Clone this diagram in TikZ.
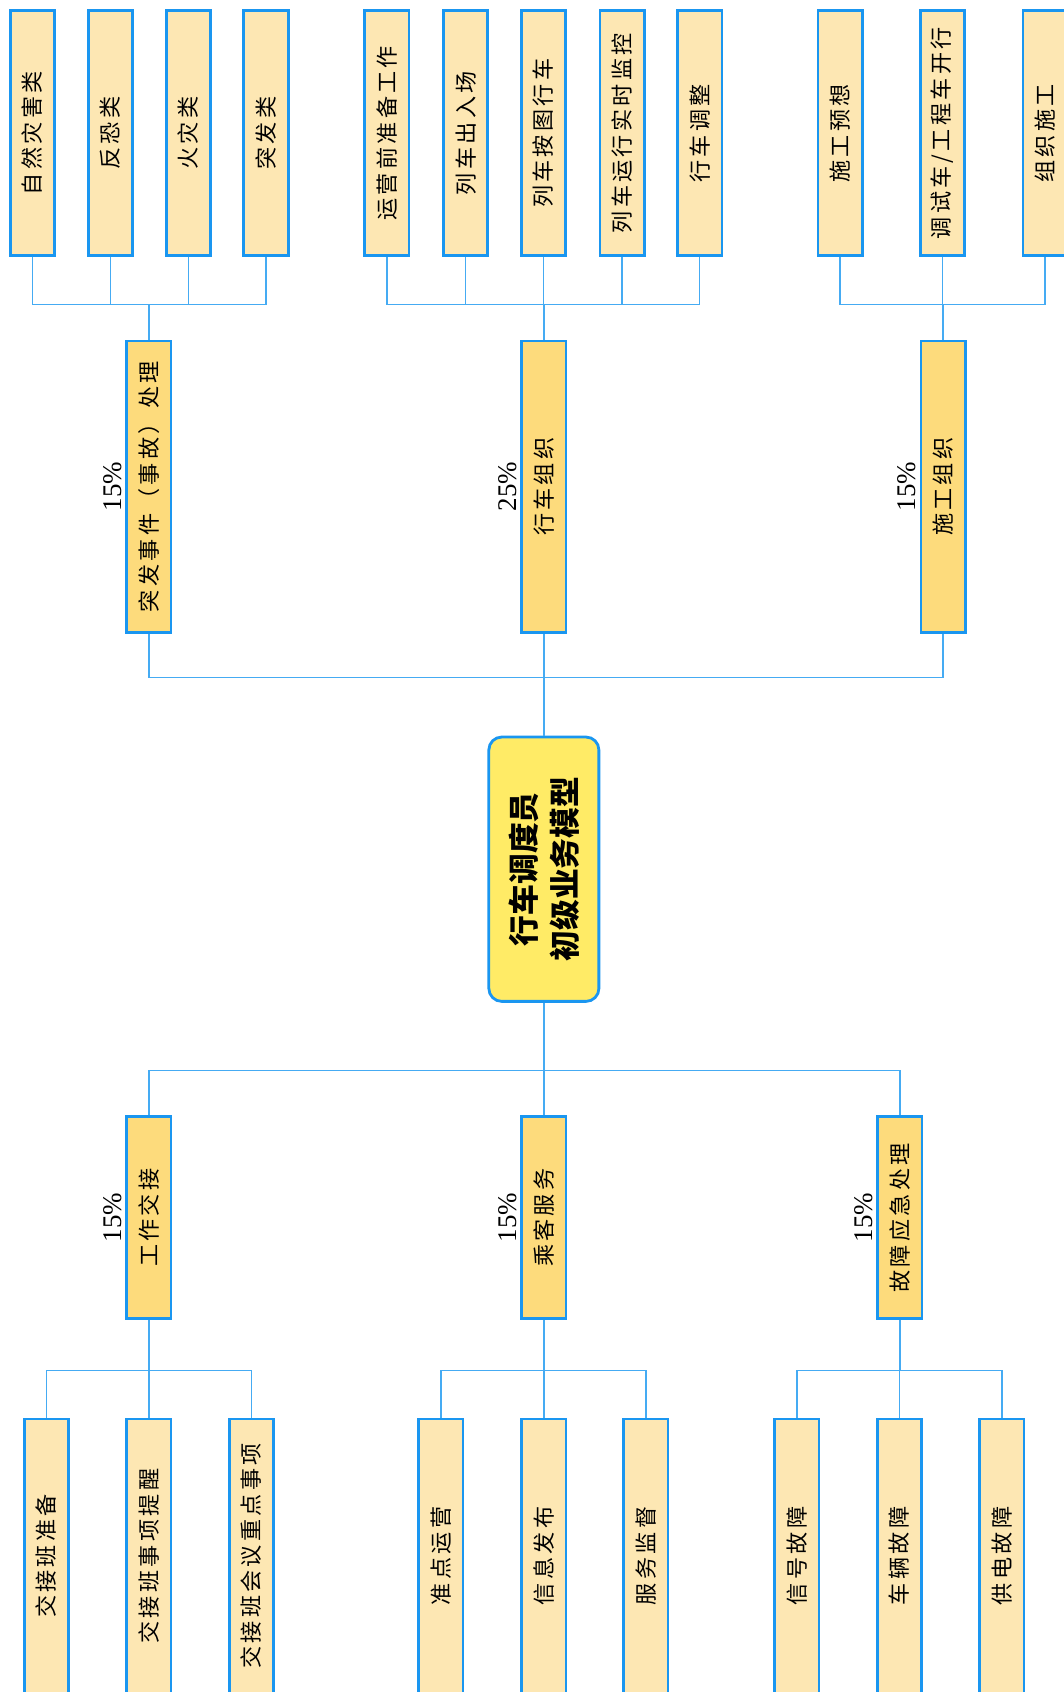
\documentclass[tikz,border=0pt]{standalone}
\usepackage{fontspec}
\newfontfamily\cjk{Noto Sans CJK SC}
\newfontfamily\cjksp[LetterSpace=15]{Noto Sans CJK SC}
\newfontfamily\pctfont{Liberation Serif}
\definecolor{bdr}{HTML}{1A96F0}
\definecolor{conncol}{HTML}{45ABF3}
\definecolor{leaffill}{HTML}{FDE7B3}
\definecolor{parfill}{HTML}{FDDB7C}
\definecolor{rootfill}{HTML}{FFEB66}
\tikzset{
  leafbox/.style={draw=bdr, line width=2.6pt, fill=leaffill, rotate=90, minimum height=41pt, inner sep=0pt,
    font=\cjksp\fontsize{20.5}{22}\selectfont},
  toplf/.style={leafbox, minimum width=227pt},
  botlf/.style={leafbox, minimum width=254pt},
  parbox/.style={leafbox, fill=parfill},
  rootbox/.style={draw=bdr, line width=2.6pt, fill=rootfill, rounded corners=12pt, rotate=90,
    minimum width=245pt, minimum height=102pt, align=center,
    font=\cjk\bfseries\fontsize{28.5}{38}\selectfont},
  pct/.style={rotate=90, anchor=south, inner sep=3pt, font=\pctfont\fontsize{25}{28}\selectfont},
  conn/.style={draw=conncol, line width=1.3pt}
}
\begin{document}
\begin{tikzpicture}[x=1pt,y=-1pt]
\path[use as bounding box] (0,0) rectangle (986,1568);
\clip (0,0) rectangle (986,1568);
\fill[white] (0,0) rectangle (986,1568);
% bracket levels
\coordinate (tb) at (0,282);
\coordinate (mt) at (0,628);
\coordinate (mb) at (0,992);
\coordinate (bb) at (0,1270);
% root
\node[rootbox] (root) at (504,805.5) {行车调度员\\初级业务模型};
% top parents
\node[parbox, minimum width=270pt] (P1) at (138,451) {突发事件（事故）处理};
\node[parbox, minimum width=270pt] (P2) at (504,451) {行车组织};
\node[parbox, minimum width=270pt] (P3) at (874,451) {施工组织};
% bottom parents
\node[parbox, minimum width=187pt] (Q1) at (138,1128.5) {工作交接};
\node[parbox, minimum width=187pt] (Q2) at (504,1128.5) {乘客服务};
\node[parbox, minimum width=187pt] (Q3) at (834,1128.5) {故障应急处理};
% percentages
\node[pct] (p1) at (P1.north) {15\%};
\node[pct] (p2) at (P2.north) {25\%};
\node[pct] (p3) at (P3.north) {15\%};
\node[pct] (q1) at (Q1.north) {15\%};
\node[pct] (q2) at (Q2.north) {15\%};
\node[pct] (q3) at (Q3.north) {15\%};
% top leaves
\node[toplf] (a1) at (30,123.5) {自然灾害类};
\node[toplf] (a2) at (102.5,123.5) {反恐类};
\node[toplf] (a3) at (174.5,123.5) {火灾类};
\node[toplf] (a4) at (246.5,123.5) {突发类};
\node[toplf] (b1) at (358.5,123.5) {运营前准备工作};
\node[toplf] (b2) at (431.5,123.5) {列车出入场};
\node[toplf] (b3) at (503.5,123.5) {列车按图行车};
\node[toplf] (b4) at (576.5,123.5) {列车运行实时监控};
\node[toplf] (b5) at (648.5,123.5) {行车调整};
\node[toplf] (c1) at (778.5,123.5) {施工预想};
\node[toplf] (c2) at (873.5,123.5) {调试车/工程车开行};
\node[toplf] (c3) at (968.5,123.5) {组织施工};
% bottom leaves
\node[botlf] (d1) at (43,1442) {交接班准备};
\node[botlf] (d2) at (138,1442) {交接班事项提醒};
\node[botlf] (d3) at (233,1442) {交接班会议重点事项};
\node[botlf] (e1) at (408.5,1442) {准点运营};
\node[botlf] (e2) at (504,1442) {信息发布};
\node[botlf] (e3) at (598.5,1442) {服务监督};
\node[botlf] (f1) at (738.5,1442) {信号故障};
\node[botlf] (f2) at (833.5,1442) {车辆故障};
\node[botlf] (f3) at (928.5,1442) {供电故障};
% connectors
\foreach \p in {P1,P2,P3}
  \draw[conn] (root.east) -- (root.east |- mt) -| (\p.west);
\foreach \q in {Q1,Q2,Q3}
  \draw[conn] (root.west) -- (root.west |- mb) -| (\q.east);
\foreach \l in {a1,a2,a3,a4}
  \draw[conn] (\l.west) -- (\l.west |- tb) -| (P1.east);
\foreach \l in {b1,b2,b3,b4,b5}
  \draw[conn] (\l.west) -- (\l.west |- tb) -| (P2.east);
\foreach \l in {c1,c2,c3}
  \draw[conn] (\l.west) -- (\l.west |- tb) -| (P3.east);
\foreach \l in {d1,d2,d3}
  \draw[conn] (Q1.west) -- (Q1.west |- bb) -| (\l.east);
\foreach \l in {e1,e2,e3}
  \draw[conn] (Q2.west) -- (Q2.west |- bb) -| (\l.east);
\foreach \l in {f1,f2,f3}
  \draw[conn] (Q3.west) -- (Q3.west |- bb) -| (\l.east);
\end{tikzpicture}
\end{document}
